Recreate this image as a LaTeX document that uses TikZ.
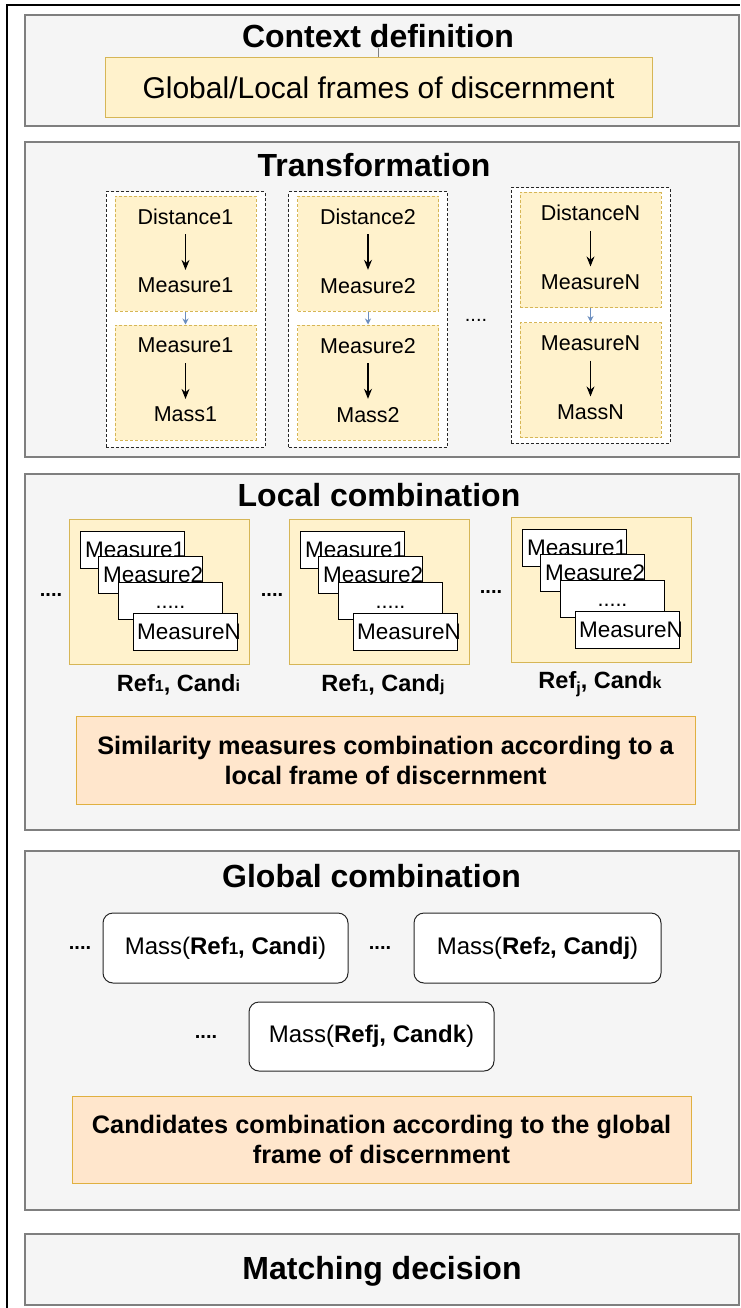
\documentclass[tikz,border=0pt]{standalone}
\usepackage{fontspec}
\setmainfont{Liberation Sans}
\usetikzlibrary{arrows.meta}
\definecolor{panelfill}{HTML}{F5F5F5}
\definecolor{panelline}{HTML}{7F7F7F}
\definecolor{yfill}{HTML}{FFF2CC}
\definecolor{yline}{HTML}{D6B656}
\definecolor{ofill}{HTML}{FFE6CC}
\definecolor{oline}{HTML}{E0B040}
\definecolor{bluearr}{HTML}{6C8EBF}
\newcommand{\myfs}[1]{\fontsize{#1}{#1}\selectfont}
% yellow stack of measure boxes: name, left x, top y
\newcommand{\drawstack}[3]{%
  \node[ybox, anchor=north west, minimum width=180pt, minimum height=145pt] (#1) at (#2,#3) {};
  \node[mbox, anchor=north west] (#1a) at (#2+11,#3+12) {};
  \node[mtext] (#1at) at ([xshift=5pt]#1a.west) {Measure1};
  \node[mbox, anchor=north west] (#1b) at (#2+29,#3+37) {};
  \node[mtext] (#1bt) at ([xshift=5pt]#1b.west) {Measure2};
  \node[mbox, anchor=north west] (#1c) at (#2+49,#3+63) {};
  \node[ntext] (#1ct) at ([yshift=-6pt]#1c.center) {.....};
  \node[mbox, anchor=north west] (#1d) at (#2+64,#3+94) {};
  \node[mtext] (#1dt) at ([xshift=4pt]#1d.west) {MeasureN};
}
% transformation group: name, center x, center y of outer, inner top/bottom centers, label suffix
\newcommand{\drawgroup}[6]{%
  \node[grp, minimum width=159pt, minimum height=255pt] (#1) at (#2,#3) {};
  \node[ydash, minimum width=141pt, minimum height=115pt] (#1t) at (#2,#4) {};
  \node[ydash, minimum width=141pt, minimum height=115pt] (#1b) at (#2,#5) {};
  \node[ntext] (#1d) at (#2,#4-37) {Distance#6};
  \node[ntext] (#1m) at (#2,#4+32) {Measure#6};
  \node[ntext] (#1mm) at (#2,#5-37) {Measure#6};
  \node[ntext] (#1s) at (#2,#5+32) {Mass#6};
  \draw[arr] (#1d) -- (#1m);
  \draw[arr] (#1mm) -- (#1s);
  \draw[barr] (#1t.south) -- (#1b.north);
}
\begin{document}
\begin{tikzpicture}[x=1pt,y=-1pt,
  panel/.style={draw=panelline, line width=1.3pt, fill=panelfill, minimum width=714pt, inner sep=0pt},
  ptitle/.style={font=\myfs{32}\bfseries, inner sep=0pt, text depth=0pt},
  ybox/.style={draw=yline, fill=yfill, line width=1pt, inner sep=0pt},
  ydash/.style={ybox, dash pattern=on 3pt off 2pt},
  grp/.style={draw=black!85, fill=white, line width=1pt, dash pattern=on 3pt off 2pt, inner sep=0pt},
  ntext/.style={font=\myfs{21.5}, inner sep=0pt, text depth=0pt},
  arr/.style={-{Stealth[length=10pt,width=8pt]}, line width=1.1pt, shorten <=10pt, shorten >=8pt},
  barr/.style={-{Stealth[length=6pt,width=6pt]}, draw=bluearr, fill=bluearr, line width=1pt},
  mbox/.style={draw=black, fill=white, line width=1pt, inner sep=0pt, minimum width=104pt, minimum height=37pt},
  mtext/.style={font=\myfs{22.5}, inner sep=0pt, anchor=west},
  dotst/.style={font=\myfs{20}\bfseries, inner sep=0pt},
  obox/.style={draw=oline, fill=ofill, line width=1pt, inner sep=0pt, minimum width=619pt, minimum height=88pt, align=center, font=\fontsize{25.3}{30}\selectfont\bfseries},
  massbox/.style={draw=black!85, fill=white, rounded corners=10pt, line width=1pt, minimum width=245pt, minimum height=70pt, font=\myfs{24}, inner sep=0pt},
  lbl/.style={font=\myfs{23.5}\bfseries, inner sep=0pt, text depth=0pt}
]
\useasboundingbox (0,0) rectangle (740,1308);
\fill[white] (0,0) rectangle (740,1308);
% outer frame (cropped)
\draw[line width=1.5pt] (7,1308) -- (7,5) -- (740,5);

% panels
\node[panel, minimum height=111pt] (p1) at (382,70.5) {};
\node[panel, minimum height=315pt] (p2) at (382,299.5) {};
\node[panel, minimum height=356pt] (p3) at (382,652) {};
\node[panel, minimum height=359pt] (p4) at (382,1030.5) {};
\node[panel, minimum height=71pt] (p5) at (382,1269.5) {};

% Context definition
\node[ptitle] (t1) at (378,36) {Context definition};
\node[ybox, minimum width=547pt, minimum height=60pt, font=\myfs{30}] (ctx) at (378.5,88) {Global/Local frames of discernment};
\draw[gray, line width=0.8pt] (t1.south -| ctx.north) -- (ctx.north);

% Transformation
\node[ptitle] (t2) at (374,165) {Transformation};
\drawgroup{ga}{185.5}{319.5}{253.5}{382.5}{1}
\drawgroup{gb}{368}{319.5}{253.5}{382.5}{2}
\drawgroup{gc}{590.5}{315.5}{250}{380}{N}
\node[dotst, font=\myfs{20}] (tdots) at (476,320) {....};

% Local combination
\node[ptitle] (t3) at (379,495) {Local combination};
\drawstack{la}{69}{519}
\drawstack{lb}{289}{519}
\drawstack{lc}{511}{517}
\node[dotst] (ld1) at (51,595) {....};
\node[dotst] (ld2) at (272,595) {....};
\node[dotst] (ld3) at (491,592) {....};
\node[lbl] (lab1) at (178.5,683) {Ref{\myfs{16}1}, Cand{\myfs{16}i}};
\node[lbl] (lab2) at (383,683) {Ref{\myfs{16}1}, Cand{\myfs{16}j}};
\node[lbl] (lab3) at (600,680) {Ref\raisebox{-5pt}{\myfs{16}j}, Cand{\myfs{16}k}};
\node[obox] (loc) at (385.5,760) {Similarity measures combination according to a\\local frame of discernment};

% Global combination
\node[ptitle] (t4) at (371.5,876) {Global combination};
\node[massbox] (ma) at (225.5,948) {Mass(\textbf{Ref{\myfs{17}1}, Candi})};
\node[massbox, minimum width=247pt] (mb) at (537.5,948) {Mass(\textbf{Ref{\myfs{17}2}, Candj})};
\node[massbox, minimum height=69pt] (mc) at (371.5,1036.5) {Mass(\textbf{Refj, Candk})};
\node[dotst] (gd1) at (80,948) {....};
\node[dotst] (gd2) at (380,948) {....};
\node[dotst] (gd3) at (206,1037) {....};
\node[obox, minimum height=87pt] (glob) at (381.5,1139.5) {Candidates combination according to the global\\frame of discernment};

% Matching decision
\node[ptitle] (t5) at (382,1268) {Matching decision};
\end{tikzpicture}
\end{document}
